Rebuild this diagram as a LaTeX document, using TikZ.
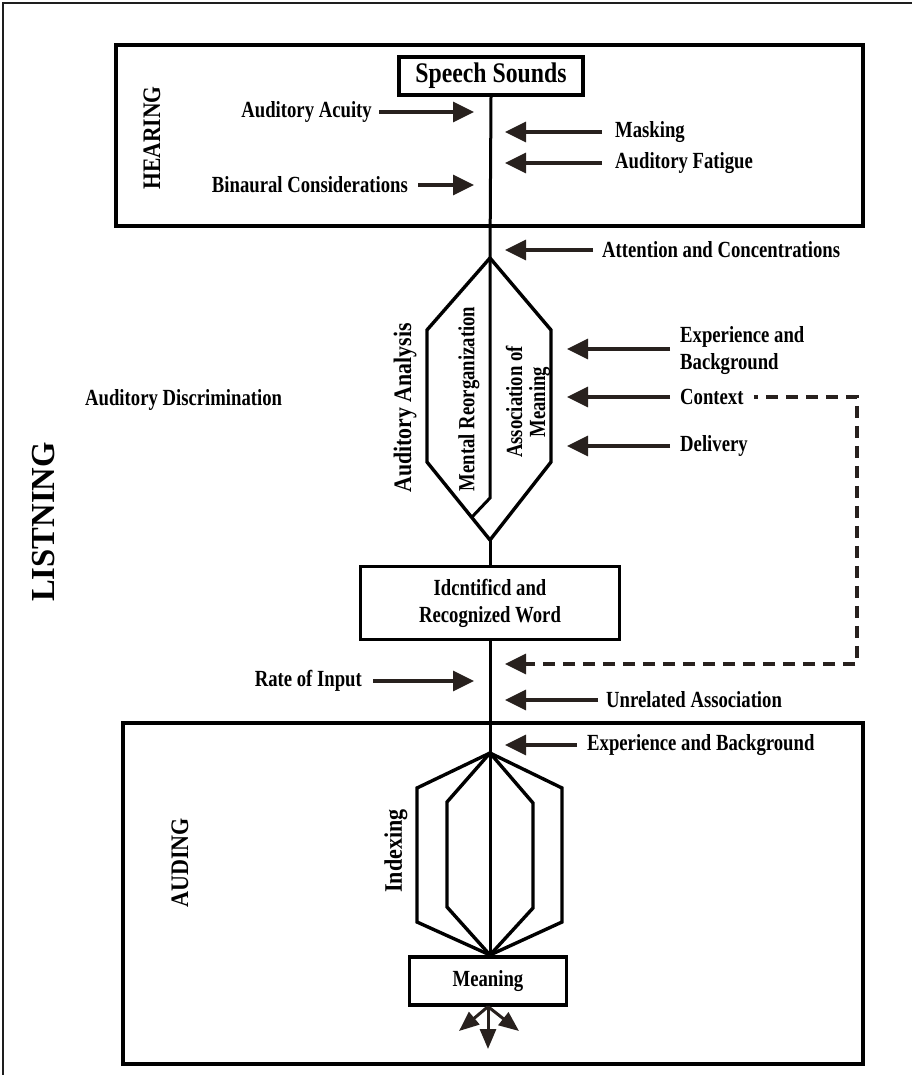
\documentclass[tikz,border=0pt]{standalone}
\usepackage{fontspec}
\setmainfont{Liberation Serif}
\usepackage{graphicx}
\usetikzlibrary{arrows.meta}
\definecolor{arrowbrown}{RGB}{40, 33, 30}
\definecolor{framegrey}{RGB}{30, 30, 30}
\newcommand{\sq}[2][0.85]{\scalebox{#1}[1.05]{#2}}

\begin{document}
\begin{tikzpicture}[x=1pt, y=-1pt,
  tag/.style={font=\fontsize{22}{27}\selectfont\bfseries, inner sep=0pt},
  bigtag/.style={font=\fontsize{24}{27}\selectfont\bfseries, inner sep=0pt, rotate=90},
  wordbox/.style={draw, line width=3.2pt, inner sep=0pt, align=center,
    font=\fontsize{22}{27}\selectfont\bfseries},
  flow/.style={line width=3pt},
  outline/.style={line width=3.4pt},
  infl/.style={draw=arrowbrown, line width=3.4pt, -{Triangle[length=21pt, width=20pt]}},
  feedback/.style={draw=arrowbrown, line width=3.4pt, dash pattern=on 12pt off 8pt,
    dash phase=8pt, -{Triangle[length=21pt, width=20pt]}},
  spread/.style={draw=arrowbrown, line width=3pt, -{Triangle[length=20pt, width=16pt]}}]
\useasboundingbox (0,0) rectangle (912,1075);

% Page frame
\draw[framegrey, line width=1.5pt] (3,1075) -- (3,3) -- (912,3);

% Draw the two stage boxes
\draw[outline] (116,45) rectangle (863,226);
\draw[outline] (123,723) rectangle (863,1064);

% Tips on the main line
\coordinate (lefttip) at (474,0);
\coordinate (righttip) at (505,0);
\coordinate (hextip) at (567,0);

% Boxes on the main line
\node[wordbox, font=\fontsize{27}{30}\selectfont\bfseries, minimum width=184, minimum height=38]
  (speech) at (491,76) {\sq[0.88]{Speech Sounds}};
\node[wordbox, minimum width=259, minimum height=73] (word) at (490,603)
  {\sq{Idcntificd and}\\\sq{Recognized Word}};
\node[wordbox, minimum width=157, minimum height=48] (meaning) at (488,981) {\sq{Meaning}};

% Discrimination hexagon
\coordinate (htop) at (490,258);
\coordinate (hul) at (427,330);
\coordinate (hll) at (427,462);
\coordinate (hbot) at (490,540);
\coordinate (hlr) at (551,462);
\coordinate (hur) at (551,330);
\coordinate (mbend) at (490,498);
\coordinate (mend) at (472,517);

% Indexing hexagons
\coordinate (itop) at (490,753);
\coordinate (iul) at (417,788);
\coordinate (ill) at (417,922);
\coordinate (ibot) at (490,955);
\coordinate (ilr) at (562,922);
\coordinate (iur) at (562,788);
\coordinate (jul) at (447,802);
\coordinate (jll) at (447,907);
\coordinate (jlr) at (533,908);
\coordinate (jur) at (533,803);

% Draw main line and shapes
\draw[flow] (speech.south) -- (htop);
\draw[outline] (htop) -- (hul) -- (hll) -- (hbot) -- (hlr) -- (hur) -- cycle;
\draw[flow] (htop) -- (mbend) -- (mend);
\draw[flow] (hbot) -- (word.north);
\draw[flow] (word.south) -- (itop);
\draw[outline] (itop) -- (iul) -- (ill) -- (ibot) -- (ilr) -- (iur) -- cycle;
\draw[outline] (itop) -- (jul) -- (jll) -- (ibot) -- (jlr) -- (jur) -- cycle;
\draw[flow] (itop) -- (ibot);

% Output arrows
\coordinate (outdown) at (488,1049);
\coordinate (outleft) at (459,1031);
\coordinate (outright) at (519,1031);
\draw[spread] (meaning.south) -- (outdown);
\draw[spread] (meaning.south) -- (outleft);
\draw[spread] (meaning.south) -- (outright);

% Add stage labels
\node[tag, rotate=90, font=\fontsize{24}{27}\selectfont\bfseries] (hearing) at (152,138) {\sq[0.9]{HEARING}};
\node[tag, rotate=90, font=\fontsize{24}{27}\selectfont\bfseries] (auding) at (180,863) {\sq[0.92]{AUDING}};
\node[tag, rotate=90, font=\fontsize{32}{34}\selectfont\bfseries] (listning) at (44,522) {\sq[1.02]{LISTNING}};

% Add labels inside the shapes
\node[bigtag] (analysis) at (405,408) {\sq[0.91]{Auditory Analysis}};
\node[tag, rotate=90] (mental) at (469,399) {\sq{Mental Reorganization}};
\node[tag, rotate=90, align=center, font=\fontsize{22}{23}\selectfont\bfseries] (assoc) at (528,402)
  {\sq{Association of}\\\sq{Meaning}};
\node[bigtag] (indexing) at (396,851) {\sq[0.92]{Indexing}};

% Add factors on the left
\node[tag, anchor=east] (acuity) at (372,112) {\sq{Auditory Acuity}};
\node[tag, anchor=east] (binaural) at (408,185) {\sq{Binaural Considerations}};
\node[tag, anchor=west] (discrim) at (85,400) {\sq{Auditory Discrimination}};
\node[tag, anchor=east] (rate) at (362,681) {\sq{Rate of Input}};

% Add factors on the right
\node[tag, anchor=west] (masking) at (615,132) {\sq{Masking}};
\node[tag, anchor=west] (fatigue) at (615,163) {\sq{Auditory Fatigue}};
\node[tag, anchor=west] (attention) at (602,250) {\sq{Attention and Concentrations}};
\node[tag, anchor=west, align=left] (experience) at (680,351) {\sq{Experience and}\\\sq{Background}};
\node[tag, anchor=west] (context) at (680,397) {\sq{Context}};
\node[tag, anchor=west] (delivery) at (680,446) {\sq{Delivery}};
\node[tag, anchor=west] (unrelated) at (606,700) {\sq{Unrelated Association}};
\node[tag, anchor=west] (background) at (587,745) {\sq{Experience and Background}};

% Draw factor arrows
\draw[infl] ([xshift=7pt]acuity.east) -- (acuity.east -| lefttip);
\draw[infl] ([xshift=10pt]binaural.east) -- (binaural.east -| lefttip);
\draw[infl] ([xshift=11pt]rate.east) -- (rate.east -| lefttip);
\draw[infl] ([xshift=-13pt]masking.west) -- (masking.west -| righttip);
\draw[infl] ([xshift=-13pt]fatigue.west) -- (fatigue.west -| righttip);
\draw[infl] ([xshift=-9pt]attention.west) -- (attention.west -| righttip);
\draw[infl] ([xshift=-10pt,yshift=2pt]experience.west) -- ([yshift=2pt]experience.west -| hextip);
\draw[infl] ([xshift=-10pt]context.west) -- (context.west -| hextip);
\draw[infl] ([xshift=-10pt]delivery.west) -- (delivery.west -| hextip);
\draw[infl] ([xshift=-8pt]unrelated.west) -- (unrelated.west -| righttip);
\draw[infl] ([xshift=-10pt]background.west) -- (background.west -| righttip);

% Feedback from context
\coordinate (fbcorner) at (857,664);
\draw[feedback] ([xshift=10pt]context.east) -| (fbcorner) -- (fbcorner -| righttip);
\end{tikzpicture}
\end{document}
